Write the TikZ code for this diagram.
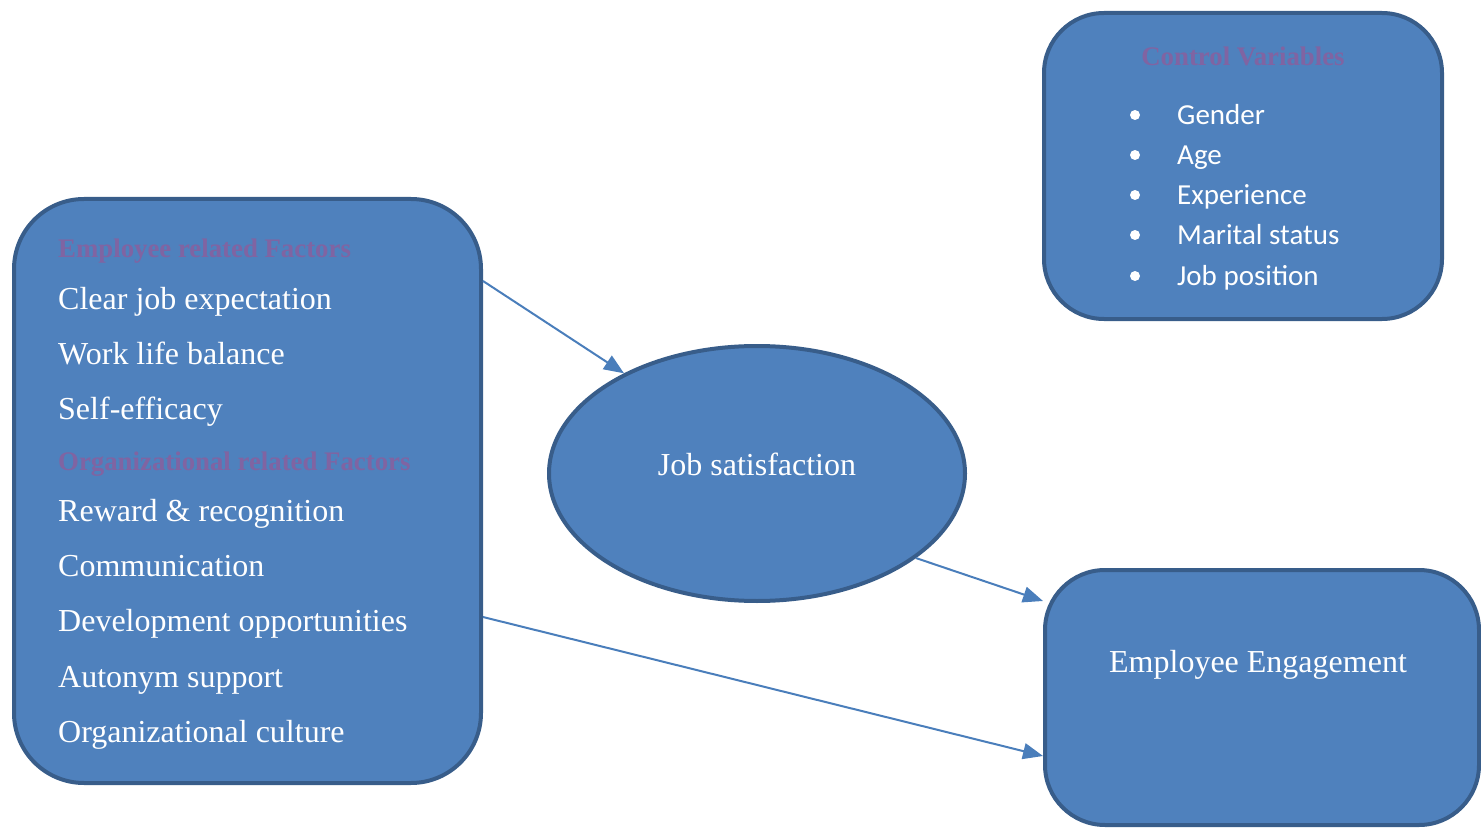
\documentclass[tikz,border=0pt]{standalone}
\usepackage{fontspec}
\setmainfont{Liberation Serif}
\newfontfamily\carlitofont{Carlito}
\usetikzlibrary{arrows.meta,shapes.geometric}
\definecolor{boxfill}{HTML}{4F81BD}
\definecolor{boxline}{HTML}{385D8A}
\definecolor{arrcol}{HTML}{4A7EBB}
\definecolor{titlecol}{HTML}{8064A2}
\tikzset{
  rbox/.style={rectangle, draw=boxline, fill=boxfill, line width=4pt, inner sep=0pt},
  ebox/.style={ellipse, draw=boxline, fill=boxfill, line width=4pt, inner sep=0pt},
  itemtxt/.style={anchor=base west, inner sep=0pt, text=white, font=\fontsize{32}{38}\selectfont},
  ctrtxt/.style={anchor=base, inner sep=0pt, text=white, font=\fontsize{32}{38}\selectfont},
  titletxt/.style={inner sep=0pt, text=titlecol, font=\fontsize{26.8}{31}\selectfont\bfseries},
  listtxt/.style={anchor=base west, inner sep=0pt, text=white, font=\carlitofont\fontsize{29}{34}\selectfont},
  bullet/.style={circle, fill=white, inner sep=0pt, minimum size=10pt},
  arr/.style={draw=arrcol, line width=2pt, -{Triangle[length=20pt,width=16pt]}}
}
\begin{document}
\begin{tikzpicture}[x=1pt,y=-1pt]
\useasboundingbox (0,0) rectangle (1481,829);
% boxes
\node[rbox, rounded corners=70pt, minimum width=467pt, minimum height=584pt] (L) at (247.5,491) {};
\node[rbox, rounded corners=60pt, minimum width=398pt, minimum height=306pt] (C) at (1243,166) {};
\node[rbox, rounded corners=60pt, minimum width=434pt, minimum height=255pt] (R) at (1262,697.5) {};
\node[ebox, minimum width=416pt, minimum height=255pt] (E) at (757,473.5) {};
% left box texts
\node[titletxt, anchor=base west] (t1) at (58,258) {Employee related Factors};
\node[itemtxt] (i1) at (58,309) {Clear job expectation};
\node[itemtxt] (i2) at (58,364) {Work life balance};
\node[itemtxt] (i3) at (58,419) {Self-efficacy};
\node[titletxt, anchor=base west] (t2) at (58,470) {Organizational related Factors};
\node[itemtxt] (i4) at (58,521) {Reward \& recognition};
\node[itemtxt] (i5) at (58,576) {Communication};
\node[itemtxt] (i6) at (58,631) {Development opportunities};
\node[itemtxt] (i7) at (58,687) {Autonym support};
\node[itemtxt] (i8) at (58,742) {Organizational culture};
% ellipse and engagement text
\node[ctrtxt] (js) at (757,475) {Job satisfaction};
\node[ctrtxt] (ee) at (1258,672) {Employee Engagement};
% control variables
\node[titletxt, anchor=base] (t3) at (1243,66) {Control Variables};
\node[bullet] (b1) at (1135,115) {};
\node[bullet] (b2) at (1135,155) {};
\node[bullet] (b3) at (1135,195) {};
\node[bullet] (b4) at (1135,235) {};
\node[bullet] (b5) at (1135,276) {};
\node[listtxt] (c1) at (1177,125) {Gender};
\node[listtxt] (c2) at (1177,165) {Age};
\node[listtxt] (c3) at (1177,205) {Experience};
\node[listtxt] (c4) at (1177,245) {Marital status};
\node[listtxt] (c5) at (1177,286) {Job position};
% arrows
\draw[arr] (L.east |- 0,281) -- (E.143);
\draw[arr] (E.-28) -- (R.west |- 0,601);
\draw[arr] (L.east |- 0,617) -- (R.west |- 0,756);
\end{tikzpicture}
\end{document}
